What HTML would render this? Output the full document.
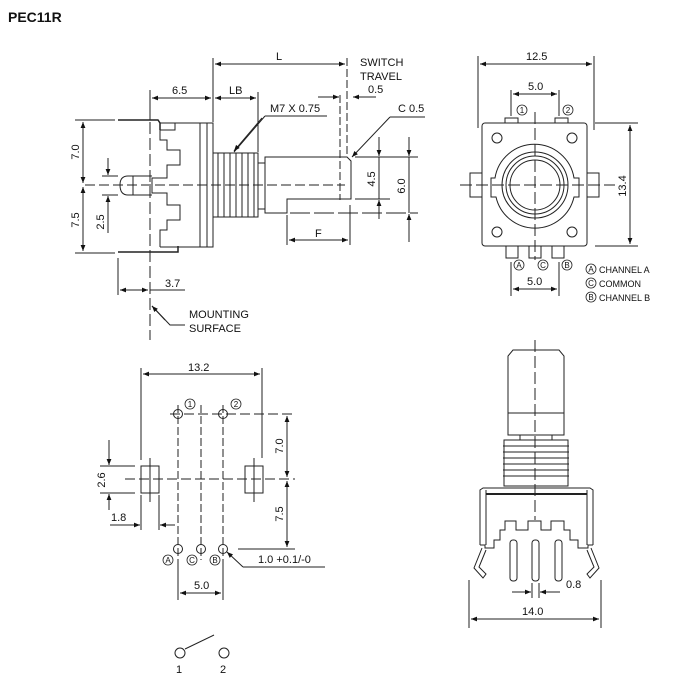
<!DOCTYPE html>
<html><head><meta charset="utf-8"><style>
html,body{margin:0;padding:0;background:#fff}
svg{display:block}
text{font-family:"Liberation Sans",Arial,sans-serif;font-size:11px;fill:#111}
</style></head><body>
<svg width="700" height="700" viewBox="0 0 700 700" xmlns="http://www.w3.org/2000/svg">
<defs>
<marker id="a" viewBox="0 0 10 10" refX="10" refY="5" markerWidth="8" markerHeight="6" orient="auto-start-reverse"><path d="M0,1 L10,5 L0,9z" fill="#111"/></marker>
</defs>
<text x="8" y="22" style="font-size:14px;font-weight:bold">PEC11R</text>

<g stroke="#222" fill="none" stroke-width="1">
<!-- ===== TOP LEFT SIDE VIEW ===== -->
<!-- centerline -->
<line x1="85" y1="185" x2="345" y2="185" stroke-dasharray="10,4"/>
<line x1="150" y1="90" x2="150" y2="340" stroke-dasharray="12,4"/>
<!-- terminals -->
<path d="M118,120 L158,120 L160,123 L160,130" stroke-width="1.5"/>
<path d="M118,252 L178,252 L178,246" stroke-width="1.5"/>
<!-- body outline -->
<path d="M160,123 L213,123 L213,247 L160,247"/>
<path d="M207,123 L207,247 M200,123 L200,247"/>
<path d="M160,130 L160,140 L167,140 L167,150 L180,150 L180,165 L167,165 L167,178 L152,178 L152,193 L167,193 L167,205 L180,205 L180,220 L167,220 L167,230 L160,230 L160,247"/>
<path d="M160,130 L175,130 L175,123"/>
<!-- shaft stub -->
<path d="M152,176 L128,176 Q120,176 120,185 Q120,195 128,195 L152,195"/>
<line x1="133" y1="176" x2="133" y2="195"/>
<!-- bushing thread -->
<rect x="213" y="153" width="45" height="64"/>
<path d="M218,153 L218,217 M224,153 L224,217 M230,153 L230,217 M236,153 L236,217 M242,153 L242,217 M248,153 L248,217 M254,153 L254,217"/>
<rect x="258" y="163" width="7" height="46"/>
<!-- shaft -->
<path d="M265,157 L347,157 L351,161 L351,199 L287,199 L287,213 L265,213 Z"/>
<!-- dims -->
<line x1="213" y1="58" x2="213" y2="122"/>
<line x1="347" y1="58" x2="347" y2="155" stroke-dasharray="8,3"/>
<line x1="215" y1="64" x2="345" y2="64" marker-start="url(#a)" marker-end="url(#a)"/>
<line x1="150" y1="92" x2="150" y2="120"/>
<line x1="152" y1="98" x2="211" y2="98" marker-start="url(#a)" marker-end="url(#a)"/>
<line x1="258" y1="92" x2="258" y2="152"/>
<line x1="215" y1="98" x2="256" y2="98" marker-start="url(#a)" marker-end="url(#a)"/>
<line x1="318" y1="97" x2="339" y2="97" marker-end="url(#a)"/>
<line x1="376" y1="97" x2="353" y2="97" marker-end="url(#a)"/>
<line x1="340" y1="95" x2="340" y2="200" stroke-dasharray="8,3"/>
<path d="M265,116 L327,116 M265,116 L234,152" />
<line x1="262" y1="118" x2="234" y2="151" marker-end="url(#a)"/>
<line x1="425" y1="117" x2="390" y2="117"/>
<line x1="390" y1="117" x2="352" y2="157" marker-end="url(#a)"/>
<line x1="355" y1="157" x2="418" y2="157"/>
<line x1="355" y1="199" x2="390" y2="199"/>
<line x1="290" y1="213" x2="418" y2="213" stroke-dasharray="20,4"/>
<line x1="379" y1="137" x2="379" y2="156" marker-end="url(#a)"/>
<line x1="379" y1="157" x2="379" y2="199"/>
<line x1="379" y1="219" x2="379" y2="200" marker-end="url(#a)"/>
<line x1="409" y1="137" x2="409" y2="156" marker-end="url(#a)"/>
<line x1="409" y1="157" x2="409" y2="213"/>
<line x1="409" y1="242" x2="409" y2="214" marker-end="url(#a)"/>
<line x1="287" y1="215" x2="287" y2="245"/>
<line x1="350" y1="205" x2="350" y2="245"/>
<line x1="289" y1="240" x2="348" y2="240" marker-start="url(#a)" marker-end="url(#a)"/>
<line x1="75" y1="120" x2="115" y2="120"/>
<line x1="75" y1="253" x2="115" y2="253"/>
<line x1="83" y1="122" x2="83" y2="183" marker-start="url(#a)" marker-end="url(#a)"/>
<line x1="83" y1="187" x2="83" y2="251" marker-start="url(#a)" marker-end="url(#a)"/>
<line x1="102" y1="176" x2="118" y2="176"/>
<line x1="102" y1="195" x2="118" y2="195"/>
<line x1="108" y1="158" x2="108" y2="175" marker-end="url(#a)"/>
<line x1="108" y1="233" x2="108" y2="196" marker-end="url(#a)"/>
<line x1="118" y1="258" x2="118" y2="295"/>
<line x1="120" y1="290" x2="148" y2="290" marker-start="url(#a)" marker-end="url(#a)"/>
<line x1="150" y1="290" x2="185" y2="290"/>
<path d="M185,325 L170,325 L152,306"/>
<line x1="165" y1="320" x2="152" y2="306" marker-end="url(#a)"/>

<!-- ===== TOP RIGHT FRONT VIEW ===== -->
<rect x="482" y="123" width="105" height="123" rx="3"/>
<rect x="470" y="173" width="12" height="24"/>
<rect x="587" y="173" width="12" height="24"/>
<circle cx="497" cy="138" r="5"/><circle cx="572" cy="138" r="5"/>
<circle cx="497" cy="232" r="5"/><circle cx="572" cy="232" r="5"/>
<path d="M495,178 L491,178 L491,197 L496,197 A40,40 0 0 0 574,197 L579,197 L579,178 L574,178 A40,40 0 0 0 495,178 Z"/>
<circle cx="535" cy="185" r="33"/>
<circle cx="535" cy="185" r="29"/>
<circle cx="535" cy="185" r="25"/>
<line x1="460" y1="185" x2="615" y2="185" stroke-dasharray="12,4"/>
<line x1="535" y1="112" x2="535" y2="260" stroke-dasharray="12,4"/>
<rect x="505" y="118" width="13" height="5"/><rect x="555" y="118" width="13" height="5"/>
<rect x="506" y="246" width="12" height="12"/><rect x="529" y="246" width="12" height="12"/><rect x="552" y="246" width="12" height="12"/>
<line x1="478" y1="56" x2="478" y2="128"/><line x1="594" y1="56" x2="594" y2="130"/>
<line x1="480" y1="64" x2="592" y2="64" marker-start="url(#a)" marker-end="url(#a)"/>
<line x1="511" y1="90" x2="511" y2="116"/><line x1="559" y1="90" x2="559" y2="116"/>
<line x1="513" y1="94" x2="557" y2="94" marker-start="url(#a)" marker-end="url(#a)"/>
<line x1="595" y1="123" x2="638" y2="123"/><line x1="595" y1="246" x2="638" y2="246"/>
<line x1="630" y1="125" x2="630" y2="244" marker-start="url(#a)" marker-end="url(#a)"/>
<line x1="511" y1="262" x2="511" y2="296"/><line x1="559" y1="262" x2="559" y2="296"/>
<line x1="513" y1="289" x2="557" y2="289" marker-start="url(#a)" marker-end="url(#a)"/>

<!-- ===== BOTTOM LEFT PCB LAYOUT ===== -->
<line x1="141" y1="368" x2="141" y2="460"/><line x1="262" y1="368" x2="262" y2="458"/>
<line x1="143" y1="374" x2="260" y2="374" marker-start="url(#a)" marker-end="url(#a)"/>
<line x1="170" y1="414" x2="295" y2="414" stroke-dasharray="10,4"/>
<line x1="125" y1="479" x2="295" y2="479" stroke-dasharray="10,4"/>
<line x1="238" y1="549" x2="295" y2="549"/>
<line x1="178" y1="405" x2="178" y2="600" stroke-dasharray="8,3"/>
<line x1="201" y1="405" x2="201" y2="560" stroke-dasharray="8,3"/>
<line x1="223" y1="405" x2="223" y2="600" stroke-dasharray="8,3"/>
<circle cx="178" cy="414" r="4.5"/><circle cx="223" cy="414" r="4.5"/>
<circle cx="178" cy="549" r="4.5"/><circle cx="201" cy="549" r="4.5"/><circle cx="223" cy="549" r="4.5"/>
<rect x="141" y="466" width="18" height="27"/><rect x="245" y="466" width="18" height="27"/>
<line x1="150" y1="458" x2="150" y2="502"/><line x1="254" y1="458" x2="254" y2="502"/>
<line x1="287" y1="416" x2="287" y2="477" marker-start="url(#a)" marker-end="url(#a)"/>
<line x1="287" y1="481" x2="287" y2="547" marker-start="url(#a)" marker-end="url(#a)"/>
<line x1="100" y1="466" x2="135" y2="466"/><line x1="100" y1="493" x2="135" y2="493"/>
<line x1="109" y1="440" x2="109" y2="465" marker-end="url(#a)"/>
<line x1="109" y1="510" x2="109" y2="494" marker-end="url(#a)"/>
<line x1="141" y1="495" x2="141" y2="530"/><line x1="159" y1="495" x2="159" y2="530"/>
<line x1="110" y1="525" x2="140" y2="525" marker-end="url(#a)"/>
<line x1="175" y1="525" x2="160" y2="525" marker-end="url(#a)"/>
<line x1="178" y1="560" x2="178" y2="600"/><line x1="223" y1="560" x2="223" y2="600"/>
<line x1="180" y1="593" x2="221" y2="593" marker-start="url(#a)" marker-end="url(#a)"/>
<path d="M325,567 L243,567"/>
<line x1="243" y1="567" x2="227" y2="552" marker-end="url(#a)"/>
<circle cx="180" cy="653" r="5"/><circle cx="224" cy="653" r="5"/>
<line x1="185" y1="649" x2="214" y2="635"/>

<!-- ===== BOTTOM RIGHT VIEW ===== -->
<line x1="535" y1="340" x2="535" y2="520" stroke-dasharray="12,4"/>
<path d="M508,435 L508,356 L513,350 L559,350 L564,356 L564,435 Z"/>
<line x1="508" y1="413" x2="564" y2="413"/>
<rect x="520" y="435" width="32" height="5"/>
<rect x="504" y="440" width="64" height="46"/>
<path d="M503,446 L569,446 M503,452 L569,452 M503,458 L569,458 M503,464 L569,464 M503,470 L569,470 M503,476 L569,476"/>
<path d="M480,545 L480,490 L483,488 L590,488 L593,490 L593,545"/>
<line x1="486" y1="494" x2="587" y2="494" stroke-width="2"/>
<line x1="486" y1="490" x2="486" y2="545"/><line x1="587" y1="490" x2="587" y2="545"/>
<path d="M480,545 L485,545 L485,548 L494,548 L494,540 L500,540 L500,530 L505,530 L505,521 L516,521 L516,530 L528,530 L528,521 L541,521 L541,530 L551,530 L551,521 L564,521 L564,530 L570,530 L570,540 L578,540 L578,548 L588,548 L588,545 L593,545"/>
<rect x="510" y="540" width="7" height="41" rx="3"/><rect x="532" y="540" width="7" height="41" rx="3"/><rect x="555" y="540" width="7" height="41" rx="3"/>
<path d="M482,548 L474,568 L483,578 L486,574 L479,567 L486,550"/>
<path d="M591,548 L599,568 L590,578 L587,574 L594,567 L587,550"/>
<line x1="469" y1="580" x2="469" y2="628"/><line x1="601" y1="580" x2="601" y2="628"/>
<line x1="471" y1="619" x2="599" y2="619" marker-start="url(#a)" marker-end="url(#a)"/>
<line x1="532" y1="583" x2="532" y2="598"/><line x1="539" y1="583" x2="539" y2="598"/>
<line x1="512" y1="592" x2="531" y2="592" marker-end="url(#a)"/>
<line x1="560" y1="592" x2="540" y2="592" marker-end="url(#a)"/>
</g>

<!-- labels -->
<text x="276" y="60">L</text>
<text x="172" y="94">6.5</text>
<text x="229" y="94">LB</text>
<text x="360" y="66">SWITCH</text>
<text x="360" y="80">TRAVEL</text>
<text x="368" y="93">0.5</text>
<text x="270" y="112">M7 X 0.75</text>
<text x="398" y="112">C 0.5</text>
<text x="315" y="237">F</text>
<text x="165" y="287">3.7</text>
<text x="189" y="318">MOUNTING</text>
<text x="189" y="332">SURFACE</text>
<text transform="translate(79,152) rotate(-90)" text-anchor="middle">7.0</text>
<text transform="translate(79,220) rotate(-90)" text-anchor="middle">7.5</text>
<text transform="translate(104,222) rotate(-90)" text-anchor="middle">2.5</text>
<text transform="translate(375,179) rotate(-90)" text-anchor="middle">4.5</text>
<text transform="translate(405,186) rotate(-90)" text-anchor="middle">6.0</text>
<text x="526" y="60">12.5</text>
<text x="528" y="90">5.0</text>
<text transform="translate(626,186) rotate(-90)" text-anchor="middle">13.4</text>
<text x="527" y="285">5.0</text>
<g style="font-size:8px">
<circle cx="522" cy="110" r="5" fill="none" stroke="#222" stroke-width="0.8"/><text x="522" y="113" text-anchor="middle" style="font-size:8px">1</text>
<circle cx="568" cy="110" r="5" fill="none" stroke="#222" stroke-width="0.8"/><text x="568" y="113" text-anchor="middle" style="font-size:8px">2</text>
<circle cx="519" cy="265" r="5" fill="none" stroke="#222" stroke-width="0.8"/><text x="519" y="268" text-anchor="middle" style="font-size:8px">A</text>
<circle cx="543" cy="265" r="5" fill="none" stroke="#222" stroke-width="0.8"/><text x="543" y="268" text-anchor="middle" style="font-size:8px">C</text>
<circle cx="567" cy="265" r="5" fill="none" stroke="#222" stroke-width="0.8"/><text x="567" y="268" text-anchor="middle" style="font-size:8px">B</text>
<circle cx="591" cy="269" r="5" fill="none" stroke="#222" stroke-width="0.8"/><text x="591" y="272" text-anchor="middle" style="font-size:8px">A</text>
<circle cx="591" cy="283" r="5" fill="none" stroke="#222" stroke-width="0.8"/><text x="591" y="286" text-anchor="middle" style="font-size:8px">C</text>
<circle cx="591" cy="297" r="5" fill="none" stroke="#222" stroke-width="0.8"/><text x="591" y="300" text-anchor="middle" style="font-size:8px">B</text>
<circle cx="190" cy="404" r="5" fill="none" stroke="#222" stroke-width="0.8"/><text x="190" y="407" text-anchor="middle" style="font-size:8px">1</text>
<circle cx="236" cy="404" r="5" fill="none" stroke="#222" stroke-width="0.8"/><text x="236" y="407" text-anchor="middle" style="font-size:8px">2</text>
<circle cx="168" cy="560" r="5" fill="none" stroke="#222" stroke-width="0.8"/><text x="168" y="563" text-anchor="middle" style="font-size:8px">A</text>
<circle cx="192" cy="560" r="5" fill="none" stroke="#222" stroke-width="0.8"/><text x="192" y="563" text-anchor="middle" style="font-size:8px">C</text>
<circle cx="215" cy="560" r="5" fill="none" stroke="#222" stroke-width="0.8"/><text x="215" y="563" text-anchor="middle" style="font-size:8px">B</text>
</g>
<text x="599" y="273" style="font-size:9px">CHANNEL A</text>
<text x="599" y="287" style="font-size:9px">COMMON</text>
<text x="599" y="301" style="font-size:9px">CHANNEL B</text>
<text x="188" y="371">13.2</text>
<text transform="translate(283,446) rotate(-90)" text-anchor="middle">7.0</text>
<text transform="translate(283,514) rotate(-90)" text-anchor="middle">7.5</text>
<text transform="translate(105,480) rotate(-90)" text-anchor="middle">2.6</text>
<text x="111" y="521">1.8</text>
<text x="194" y="589">5.0</text>
<text x="258" y="563">1.0 +0.1/-0</text>
<text x="176" y="673">1</text>
<text x="220" y="673">2</text>
<text x="566" y="588">0.8</text>
<text x="522" y="615">14.0</text>
</svg>
</body></html>
